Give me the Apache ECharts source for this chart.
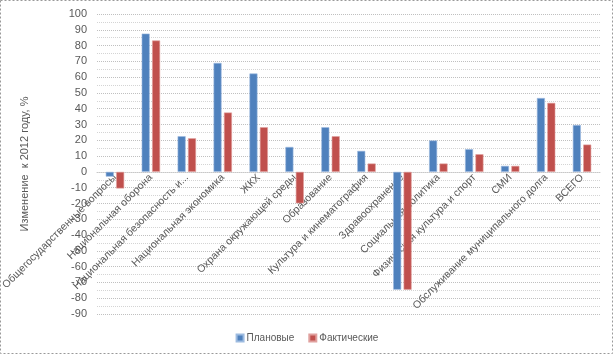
<!DOCTYPE html>
<html><head><meta charset="utf-8">
<script src="https://cdn.jsdelivr.net/npm/echarts@6/dist/echarts.min.js"></script>
<style>html,body{margin:0;padding:0;background:#fff}#c{width:614px;height:355px}</style>
</head><body><div id="c"></div>
<script>
const categories = ["Общегосударственные вопросы","Национальная оборона","Национальная безопасность и...","Национальная экономика","ЖКХ","Охрана окружающей среды","Образование","Культура и кинематография","Здравоохранение","Социальная политика","Физическая культура и спорт","СМИ","Обслуживание муниципального долга","ВСЕГО"];
const planned = [-3, 87.6, 22.6, 69, 62.3, 15.8, 28.3, 13.3, -74.6, 19.9, 14.4, 3.8, 46.8, 29.7];
const actual = [-10.5, 83.2, 21.3, 37.6, 28.3, -19.9, 22.6, 5.3, -74.6, 5.3, 11.2, 3.8, 43.7, 17.3];
const seriesNames = ["Плановые", "Фактические"];
const yName = "Изменение  к 2012 году, %";

const font = "Liberation Sans";
const gridTop = 14, gridBottom = 41, H = 355, yMin = -90, yMax = 100;
const plotH = H - gridTop - gridBottom;
const zeroOffset = -plotH * (0 - yMin) / (yMax - yMin);
const chart = echarts.init(document.getElementById('c'));
chart.setOption({
  animation: false,
  textStyle: {fontFamily: font},
  grid: {left: 97, right: 14, top: gridTop, bottom: gridBottom, containLabel: false, outerBoundsMode: 'none'},
  legend: {
    bottom: 7, left: 'center', itemWidth: 7, itemHeight: 7, itemGap: 14,
    textStyle: {color: '#595959', fontSize: 10, fontFamily: font, padding: [0, 0, 0, -2]},
    icon: 'rect',
    data: seriesNames
  },
  graphic: [{type: 'rect', shape: {x: 0.5, y: 0.5, width: 612, height: 353},
    style: {fill: 'none', stroke: '#999', lineWidth: 1, lineDash: [2, 2]}, silent: true}],
  xAxis: {
    type: 'category', data: categories, offset: zeroOffset,
    axisLine: {show: true, onZero: false, lineStyle: {color: '#c8c8c8', type: 'dotted'}},
    axisTick: {show: false},
    axisLabel: {rotate: 45, interval: 0, color: '#595959', fontSize: 10.5, fontFamily: font, margin: 4}
  },
  yAxis: {
    type: 'value', min: yMin, max: yMax, interval: 10,
    name: yName, nameLocation: 'middle', nameGap: 67, nameRotate: 90,
    nameTextStyle: {color: '#595959', fontSize: 11, fontFamily: font},
    axisLine: {show: false}, axisTick: {show: false},
    axisLabel: {color: '#595959', fontSize: 11, fontFamily: font, margin: 10},
    splitLine: {lineStyle: {color: '#c0c0c0', type: 'dotted'}},
    minorTick: {show: false, splitNumber: 2},
    minorSplitLine: {show: true, lineStyle: {color: '#d4d4d4', type: 'dotted'}}
  },
  series: [
    {name: seriesNames[0], type: 'bar', data: planned, barWidth: 8, barGap: '30%',
     itemStyle: {color: '#4F81BD', borderColor: '#9dbbe0', borderWidth: 0.6}},
    {name: seriesNames[1], type: 'bar', data: actual, barWidth: 8,
     itemStyle: {color: '#C0504D', borderColor: '#e0a09e', borderWidth: 0.6}}
  ]
});
</script></body></html>
